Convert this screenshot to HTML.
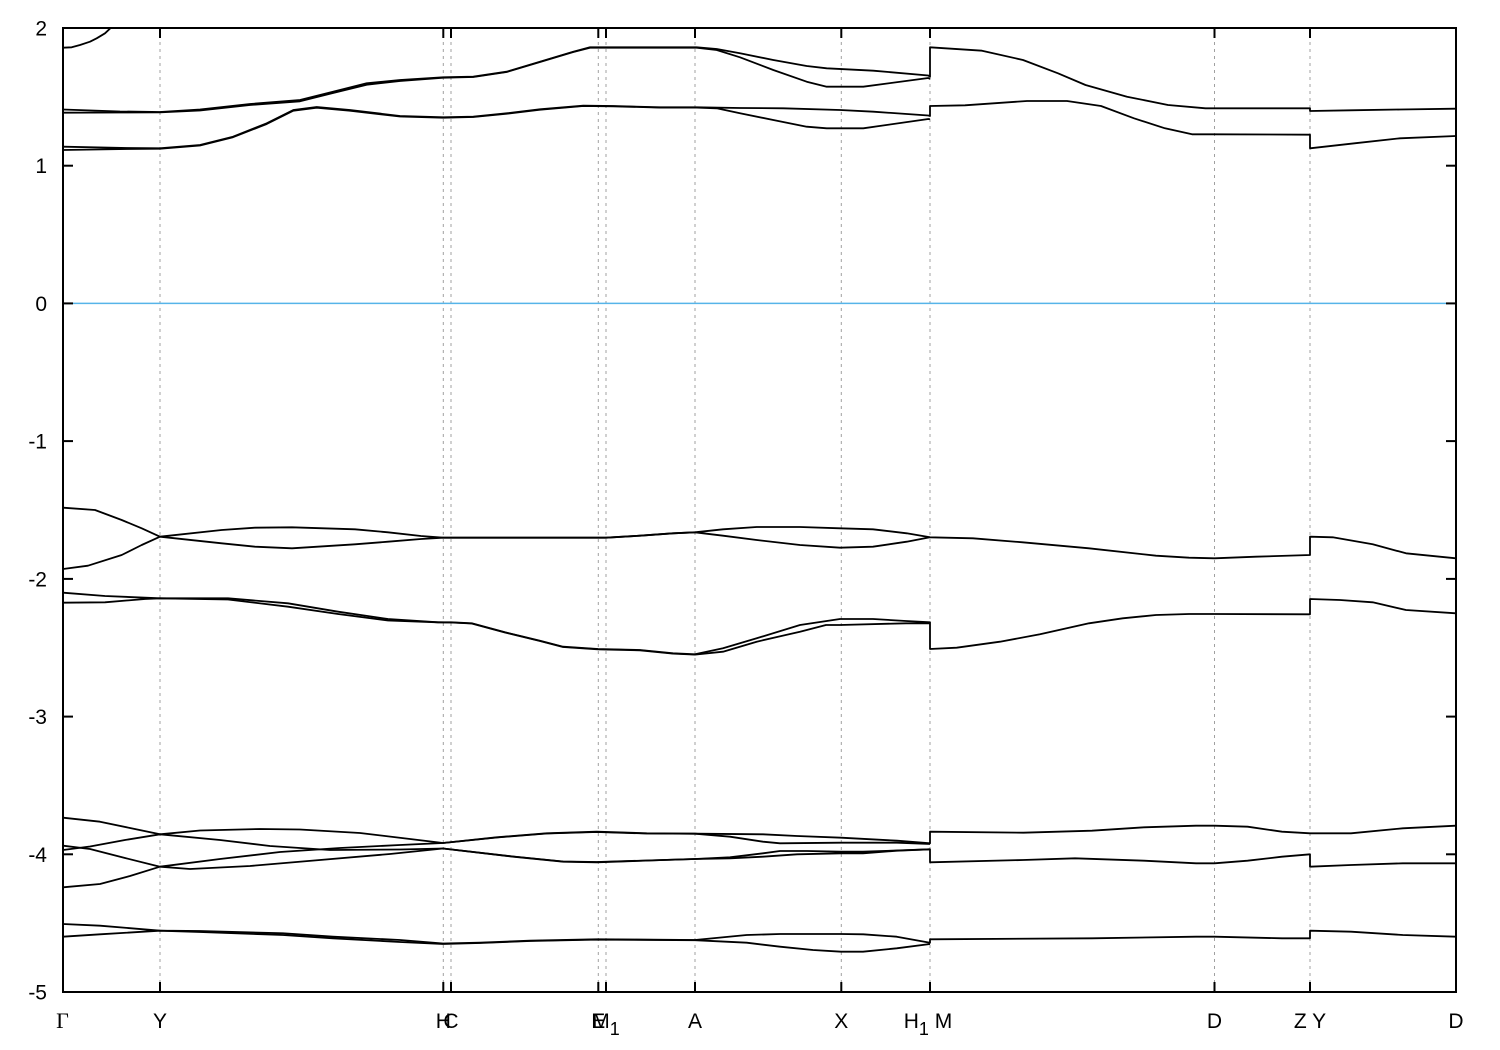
<!DOCTYPE html>
<html><head><meta charset="utf-8"><style>
html,body{margin:0;padding:0;background:#fff;}
svg{display:block;}
text{font-family:"Liberation Sans",sans-serif;font-size:21px;fill:#000;}
</style></head><body>
<svg id="chart" width="1500" height="1050" viewBox="0 0 1500 1050" xmlns="http://www.w3.org/2000/svg">
<defs><clipPath id="pa"><rect x="63" y="28" width="1393" height="964"/></clipPath></defs>
<rect width="1500" height="1050" fill="#fff"/>
<g stroke="#a0a0a0" stroke-width="1" stroke-dasharray="3,4">
<line x1="160" y1="28" x2="160" y2="992"/>
<line x1="443.3" y1="28" x2="443.3" y2="992"/>
<line x1="451" y1="28" x2="451" y2="992"/>
<line x1="598.3" y1="28" x2="598.3" y2="992"/>
<line x1="606" y1="28" x2="606" y2="992"/>
<line x1="695" y1="28" x2="695" y2="992"/>
<line x1="841.3" y1="28" x2="841.3" y2="992"/>
<line x1="930" y1="28" x2="930" y2="992"/>
<line x1="1214.5" y1="28" x2="1214.5" y2="992"/>
<line x1="1310" y1="28" x2="1310" y2="992"/>
</g>
<line x1="63" y1="303.4" x2="1456" y2="303.4" stroke="#56B4E9" stroke-width="1.5"/>
<g id="bands" clip-path="url(#pa)" fill="none" stroke="#000" stroke-width="1.8" stroke-linejoin="round">
<polyline points="63,47.7 71.7,47.3 80,45 90,41.7 96.7,38.3 105,33.3 111.7,27"/>
<polyline points="63,109.5 120,111.5 160,112 200,109.5 250,104 300,100 333,91.7 366.7,83.3 400,80 443.3,77.3 473.3,76.7 506.7,71.7 540,61.7 573.3,51.7 590,47.3 620,47.3 696.7,47.3 716.7,49 740,53.3 773.3,60 806.7,66 826.7,68.3 873.3,70.7 928.3,75.5 930,76.7 930,47.3 982,50.7 1023,60 1058,73.3 1085.5,85 1127,96.7 1168,105 1205.5,108.3 1230,108.3 1310,108.3 1310,111 1350,110.3 1400,109.5 1456,108.7"/>
<polyline points="63,112.7 120,112.5 160,112.3 200,110.5 250,105 300,101.3 333,93 366.7,84.7 400,81 443.3,77.7 473.3,77 506.7,72 540,62 573.3,52 590,47.7 620,47.7 696.7,47.7 716.7,50 740,57.3 773.3,70 806.7,81.7 826.7,86.7 863.3,86.7 928.3,78 930,79"/>
<polyline points="63,146.7 127,148 160,148.3 200,145 233,136.7 266.7,123.3 293.3,110 316.7,107 350,110 400,116 443.3,117.3 473.3,116.7 506.7,113.3 540,109.3 583.3,105.7 613.3,106 660,107.3 696.7,107.3 740,108 783.3,108.3 840,110 873.3,111.7 928.3,115.5 930,116 930,106 965,105.3 1027,101 1067,101 1101,106 1134,118.3 1165,128.3 1192,134.3 1214.5,134.3 1310,134.7 1310,148.3 1354.5,143.3 1400,138.3 1456,136"/>
<polyline points="63,150 127,149 160,148.7 200,145.5 233,137.2 266.7,124 293.3,110.7 316.7,107.7 350,110.7 400,116.5 443.3,117.7 473.3,117 506.7,113.7 540,109.7 583.3,106 613.3,106.3 660,107.6 696.7,107.6 716.7,108.3 740,113.3 773.3,120 806.7,126.7 826.7,128.3 863.3,128.3 928.3,119 930,119.3"/>
<polyline points="63,507.7 95,510 121.7,520 141.7,528.3 160,536.7 221.7,543.3 255,546.7 292,548.3 355,544.3 388,541.7 421,539 443,537.7 451,537.7 606,537.7 640,535.7 673,533.3 695,532.3 723,529.3 756.7,527 800,527 840,528.3 873,529.3 906.7,533.3 930,537.3 973,538.3 1022.7,542.3 1089,548.3 1156,555.7 1189,557.7 1214.5,558.3 1256,556.7 1310,555 1310,536.7 1332.7,537.3 1372.7,544.3 1406,553.3 1456,558.3"/>
<polyline points="63,569 88,565.7 121.7,555 141.7,545 160,536.7 221.7,530 255,527.7 292,527.3 355,529.3 388,532.3 421,536 443,537.7 606,537.7 640,535.7 673,533.3 695,532.3 723,535.7 756.7,540 800,545 840,547.7 873,546.7 906.7,541.7 930,537.3"/>
<polyline points="63,592.7 105,596 160,598.3 228,598.3 288,603.3 338,611.7 388,619 438,622.3 451,622.3 471.7,623.3 505,632.3 540,640.7 563,646.7 598,649 640,650 673,653.3 695,654.3 723,648.3 756.7,638.3 800,625 840,619 873,619 906,621 930,622.3 930,649 956.7,647.7 1000,641.7 1040,634.3 1089,623.3 1122.7,618.3 1156,615 1189,614 1214.5,614 1310,614.3 1310,599 1340,600 1372.7,602.3 1406,610 1456,613.3"/>
<polyline points="63,602.7 105,602.3 145,599 160,598.3 228,599.5 288,606.7 338,614 388,620.5 438,622.3 451,622.5 471.7,623.5 505,632.5 540,641 563,647 598,649.3 640,650.3 673,653.6 695,654.6 723,651.7 756.7,641.7 800,631.7 826,625 840,625 906,623.3 930,623.3"/>
<polyline points="63,817.7 100,821.7 130,828 160,834.3 200,830.5 260,829 300,829.5 360,833 410,839 443,843 496.7,837.3 546.7,833.3 596.7,831.7 646.7,833.3 695,833.7 763,834.3 797,836 841,837.7 897,840.7 930,843.3 930,831.7 1023.4,832.7 1092,830.7 1144,827.3 1196,825.7 1214.5,825.7 1247.6,826.7 1282,831.7 1310,833.3 1351,833.3 1402.8,828.3 1456,825.7"/>
<polyline points="63,850 90,846.5 125,840 160,834.3 220,840 270,846 330,850 400,849.5 443,848.5 513.3,856.7 563.3,861.7 596.7,862.3 663.3,860 695,859 730,857.3 763,853.3 780,851 807,851 841,851.7 863,851.7 930,849.3 930,862.3 1023,860 1075,858.3 1144,860.7 1196,863.3 1214.5,863.3 1247.6,860.7 1282,856.7 1310,854.3 1310,866.7 1351,865 1402.8,863.3 1456,863.3"/>
<polyline points="63,887.3 100,884 130,876 160,866.7 220,859 280,852 340,848 400,845 443,843 496.7,837.5 546.7,833.5 596.7,832 646.7,833.5 695,833.7 730,836.7 763,841.7 780,843.3 841,842.7 897,842.7 930,844"/>
<polyline points="63,845.7 90,849 125,858 160,866.7 190,869 250,866 320,860 390,854 443,848.5 513,856.5 563,861.5 597,862 663,860 695,859 730,858.3 763,856.7 797,854.3 841,853.3 863,853.3 897,850.7 930,849.3"/>
<polyline points="63,924 100,925.7 160,930.7 200,931 283,933.3 333,936.7 400,940 443,943.5 480,942.7 530,940.7 597,939.3 695,940 746.7,935 780,934 841,934 863.3,934.3 896.7,936.7 930,942.7 930,939.3 1092,938.3 1196,936.7 1214.5,936.7 1282,938.3 1310,938.3 1310,930.7 1351,931.7 1402.8,935 1456,936.7"/>
<polyline points="63,936.7 100,934.3 160,930.7 200,932 283,935 333,938.3 400,942 443,944 480,943 530,941 597,939.6 695,940.2 746.7,942.7 780,946.7 813,950 841,951.7 863,951.7 896.7,948.3 930,944"/>
</g>
<rect x="63" y="28" width="1393" height="964" fill="none" stroke="#000" stroke-width="2"/>
<g stroke="#000" stroke-width="2">
<line x1="63" y1="165.7" x2="73" y2="165.7"/><line x1="1446" y1="165.7" x2="1456" y2="165.7"/>
<line x1="63" y1="303.4" x2="73" y2="303.4"/><line x1="1446" y1="303.4" x2="1456" y2="303.4"/>
<line x1="63" y1="441.1" x2="73" y2="441.1"/><line x1="1446" y1="441.1" x2="1456" y2="441.1"/>
<line x1="63" y1="578.9" x2="73" y2="578.9"/><line x1="1446" y1="578.9" x2="1456" y2="578.9"/>
<line x1="63" y1="716.6" x2="73" y2="716.6"/><line x1="1446" y1="716.6" x2="1456" y2="716.6"/>
<line x1="63" y1="854.3" x2="73" y2="854.3"/><line x1="1446" y1="854.3" x2="1456" y2="854.3"/>
<line x1="160" y1="28" x2="160" y2="38"/><line x1="160" y1="982" x2="160" y2="992"/>
<line x1="443.3" y1="28" x2="443.3" y2="38"/><line x1="443.3" y1="982" x2="443.3" y2="992"/>
<line x1="451" y1="28" x2="451" y2="38"/><line x1="451" y1="982" x2="451" y2="992"/>
<line x1="598.3" y1="28" x2="598.3" y2="38"/><line x1="598.3" y1="982" x2="598.3" y2="992"/>
<line x1="606" y1="28" x2="606" y2="38"/><line x1="606" y1="982" x2="606" y2="992"/>
<line x1="695" y1="28" x2="695" y2="38"/><line x1="695" y1="982" x2="695" y2="992"/>
<line x1="841.3" y1="28" x2="841.3" y2="38"/><line x1="841.3" y1="982" x2="841.3" y2="992"/>
<line x1="930" y1="28" x2="930" y2="38"/><line x1="930" y1="982" x2="930" y2="992"/>
<line x1="1214.5" y1="28" x2="1214.5" y2="38"/><line x1="1214.5" y1="982" x2="1214.5" y2="992"/>
<line x1="1310" y1="28" x2="1310" y2="38"/><line x1="1310" y1="982" x2="1310" y2="992"/>
</g>
<g text-anchor="end">
<text x="47" y="35.5">2</text>
<text x="47" y="173.2">1</text>
<text x="47" y="311">0</text>
<text x="47" y="448.6">-1</text>
<text x="47" y="586.4">-2</text>
<text x="47" y="724">-3</text>
<text x="47" y="861.8">-4</text>
<text x="47" y="999.5">-5</text>
</g>
<g text-anchor="middle">
<text x="62.5" y="1028" style="font-family:'Liberation Serif',serif;font-size:22px">Γ</text>
<text x="160" y="1028">Y</text>
<text x="443.3" y="1028">H</text>
<text x="451" y="1028">C</text>
<text x="598.3" y="1028">E</text>
<text x="606" y="1028">M<tspan dy="7" style="font-size:18px">1</tspan></text>
<text x="695" y="1028">A</text>
<text x="841.3" y="1028">X</text>
<text x="928" y="1028">H<tspan dy="7" style="font-size:18px">1</tspan><tspan dy="-7"> M</tspan></text>
<text x="1214.5" y="1028">D</text>
<text x="1310" y="1028">Z Y</text>
<text x="1456" y="1028">D</text>
</g>
<script>
(function(){
  var g=document.getElementById('bands');
  var pls=Array.prototype.slice.call(g.getElementsByTagName('polyline'));
  pls.forEach(function(pl){
    var raw=pl.getAttribute('points').trim().split(/\s+/).map(function(s){var a=s.split(',');return [parseFloat(a[0]),parseFloat(a[1])];});
    // split into runs at vertical jumps
    var runs=[],cur=[raw[0]];
    for(var i=1;i<raw.length;i++){
      if(Math.abs(raw[i][0]-raw[i-1][0])<0.5){runs.push(cur);cur=[raw[i]];}
      else cur.push(raw[i]);
    }
    runs.push(cur);
    var d='';
    runs.forEach(function(r,ri){
      d+=(ri===0?'M':'L')+r[0][0].toFixed(2)+','+r[0][1].toFixed(2);
      for(var k=0;k<r.length-1;k++){
        var p0=r[k>0?k-1:k],p1=r[k],p2=r[k+1],p3=r[k+2<r.length?k+2:k+1];
        var c1x=p1[0]+(p2[0]-p0[0])/6,c1y=p1[1]+(p2[1]-p0[1])/6;
        var c2x=p2[0]-(p3[0]-p1[0])/6,c2y=p2[1]-(p3[1]-p1[1])/6;
        // keep control x within segment to avoid loops
        c1x=Math.min(Math.max(c1x,p1[0]),p2[0]);c2x=Math.min(Math.max(c2x,p1[0]),p2[0]);
        d+='C'+c1x.toFixed(2)+','+c1y.toFixed(2)+' '+c2x.toFixed(2)+','+c2y.toFixed(2)+' '+p2[0].toFixed(2)+','+p2[1].toFixed(2);
      }
    });
    var p=document.createElementNS('http://www.w3.org/2000/svg','path');
    p.setAttribute('d',d);
    g.replaceChild(p,pl);
  });
})();
</script>
</svg>
</body></html>
